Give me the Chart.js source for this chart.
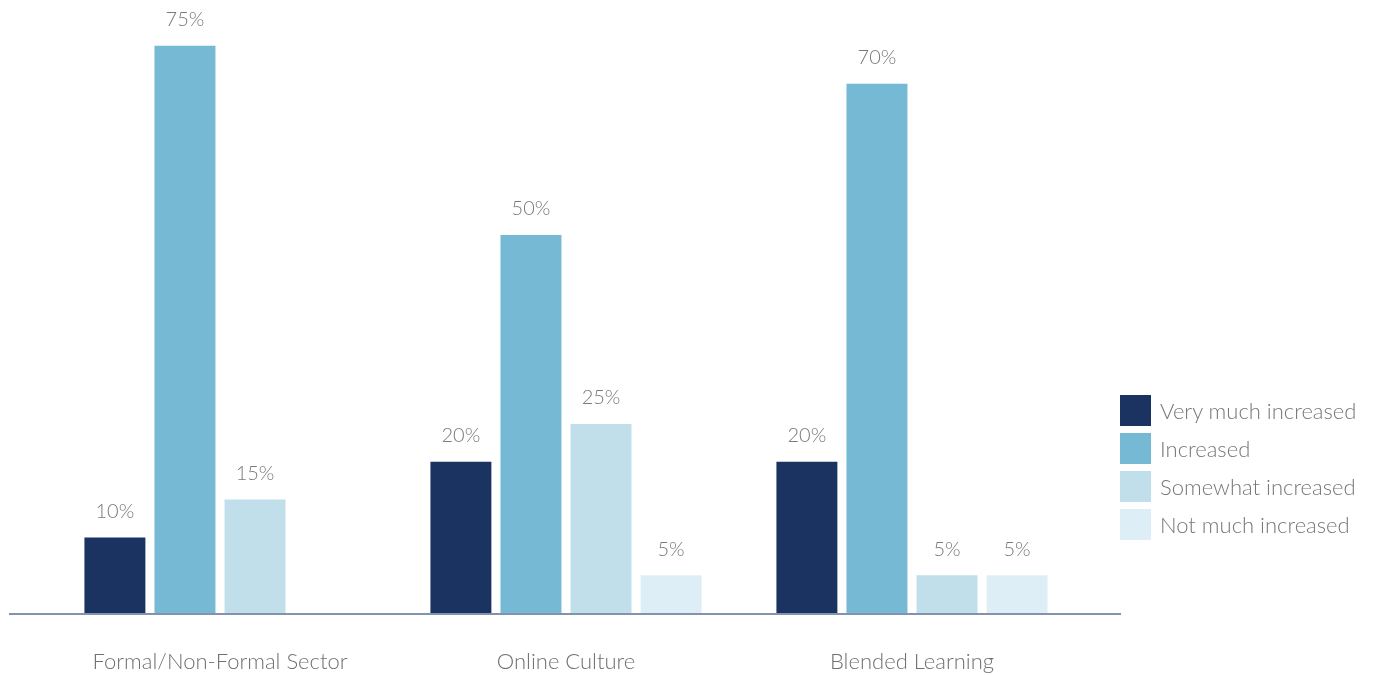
<!DOCTYPE html>
<html>
<head>
<meta charset="utf-8">
<title>Change by sector</title>
<script src="https://cdn.jsdelivr.net/npm/chart.js@4.4.1/dist/chart.umd.min.js"></script>
<style>
  html, body { margin: 0; padding: 0; background: #fff; }
  #wrap { position: relative; width: 1373px; height: 675px; }
  #legend { position: absolute; left: 1120px; top: 395px; font-family: Lato, "Open Sans", sans-serif; font-weight: 300; font-size: 22px; color: #777; }
  #legend div { display: flex; align-items: center; height: 31px; margin-bottom: 7px; }
  #legend span.box { width: 31px; height: 31px; margin-right: 9px; flex: none; }
</style>
</head>
<body>
<div id="wrap">
  <canvas id="chart" width="1373" height="675"></canvas>
  <div id="legend"></div>
</div>
<script>
const categories = ['Formal/Non-Formal Sector', 'Online Culture', 'Blended Learning'];
const seriesNames = ['Very much increased', 'Increased', 'Somewhat increased', 'Not much increased'];
const veryMuch = [10, 20, 20];
const increased = [75, 50, 70];
const somewhat = [15, 25, 5];
const notMuch = [null, 5, 5];
const colors = ['#1a3361', '#75b9d5', '#c0dfeb', '#deeef6'];

const values = [veryMuch, increased, somewhat, notMuch];
const font = 'Lato, "Open Sans", sans-serif';

// percentage above each bar
const valueLabels = {
  id: 'valueLabels',
  afterDatasetsDraw(chart) {
    const ctx = chart.ctx;
    ctx.save();
    ctx.font = '300 20px ' + font;
    ctx.fillStyle = '#7a7a7a';
    ctx.textAlign = 'center';
    ctx.textBaseline = 'middle';
    chart.data.datasets.forEach((ds, i) => {
      chart.getDatasetMeta(i).data.forEach((bar, j) => {
        const v = ds.data[j];
        if (v == null) return;
        ctx.fillText(v + '%', bar.x, bar.y - 26);
      });
    });
    ctx.restore();
  }
};

// baseline runs wider than the bar groups
const baseline = {
  id: 'baseline',
  afterDatasetsDraw(chart) {
    const ctx = chart.ctx;
    const y = chart.scales.y.getPixelForValue(0);
    ctx.save();
    ctx.strokeStyle = 'rgba(110, 128, 158, 0.85)';
    ctx.lineWidth = 2;
    ctx.beginPath();
    ctx.moveTo(chart.chartArea.left - 38, y + 1);
    ctx.lineTo(chart.chartArea.right + 36, y + 1);
    ctx.stroke();
    ctx.restore();
  }
};

new Chart(document.getElementById('chart'), {
  type: 'bar',
  data: {
    labels: categories,
    datasets: seriesNames.map((name, i) => ({
      label: name,
      data: values[i],
      backgroundColor: colors[i],
      borderWidth: 0,
      categoryPercentage: 0.81,
      barPercentage: 0.87
    }))
  },
  options: {
    responsive: false,
    animation: false,
    layout: { padding: { left: 47, right: 288, top: 8, bottom: 0 } },
    plugins: { legend: { display: false }, tooltip: { enabled: false } },
    scales: {
      x: {
        grid: { display: false, drawTicks: false },
        border: { display: false },
        ticks: { padding: 36, color: '#707070', font: { family: font, size: 22, weight: 300 } },
        afterFit(scale) { scale.height = 62; }
      },
      y: {
        display: false,
        min: 0,
        max: 80
      }
    }
  },
  plugins: [valueLabels, baseline]
});

// legend built from the same series
const legend = document.getElementById('legend');
seriesNames.forEach((name, i) => {
  const row = document.createElement('div');
  const box = document.createElement('span');
  box.className = 'box';
  box.style.background = colors[i];
  row.appendChild(box);
  row.appendChild(document.createTextNode(name));
  legend.appendChild(row);
});
</script>
</body>
</html>
